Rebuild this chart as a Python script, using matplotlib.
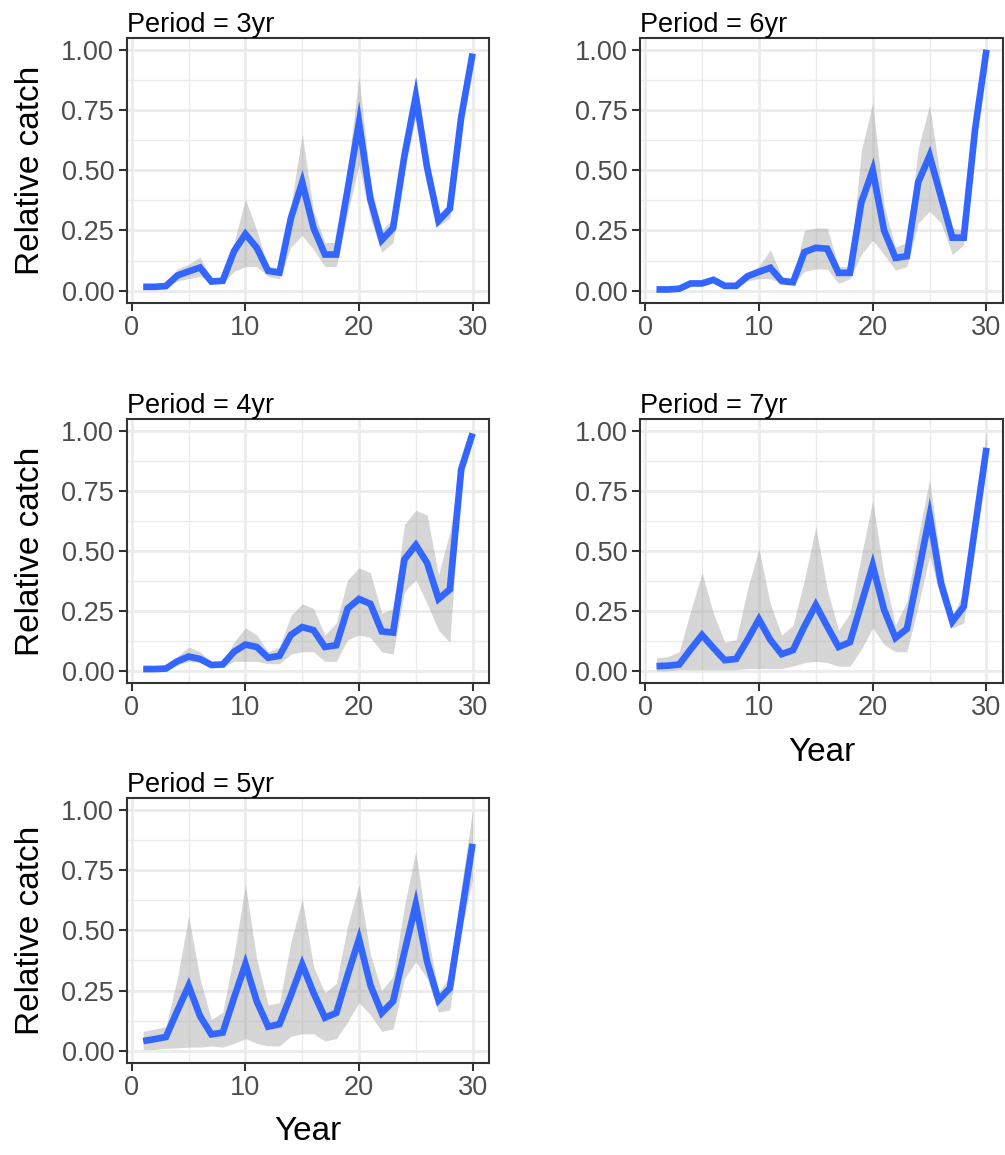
import numpy as np
import matplotlib
matplotlib.use("Agg")
import matplotlib.pyplot as plt

plt.rcParams['font.family'] = ['Liberation Sans', 'DejaVu Sans']

years = np.arange(1, 31)

# mean relative catch and ribbon bounds for each cycle period
catch_3 = [0.016, 0.016, 0.019, 0.063, 0.08, 0.096, 0.038, 0.041, 0.164, 0.235,
           0.178, 0.082, 0.075, 0.30, 0.45, 0.26, 0.15, 0.15, 0.42, 0.697,
           0.38, 0.21, 0.26, 0.56, 0.806, 0.51, 0.29, 0.34, 0.72, 0.984]
upper_3 = [0.02, 0.02, 0.025, 0.09, 0.11, 0.14, 0.05, 0.055, 0.20, 0.38,
           0.25, 0.10, 0.095, 0.35, 0.65, 0.33, 0.20, 0.20, 0.50, 0.89,
           0.45, 0.25, 0.30, 0.62, 0.89, 0.55, 0.31, 0.36, 0.75, 1.0]
lower_3 = [0.01, 0.01, 0.012, 0.04, 0.05, 0.06, 0.03, 0.03, 0.08, 0.10,
           0.10, 0.06, 0.05, 0.18, 0.23, 0.17, 0.10, 0.10, 0.32, 0.52,
           0.30, 0.16, 0.20, 0.50, 0.72, 0.47, 0.27, 0.30, 0.68, 0.95]

catch_6 = [0.005, 0.005, 0.008, 0.03, 0.03, 0.045, 0.02, 0.02, 0.06, 0.078,
           0.095, 0.04, 0.035, 0.16, 0.178, 0.174, 0.074, 0.074, 0.366, 0.50,
           0.25, 0.136, 0.143, 0.45, 0.56, 0.39, 0.22, 0.22, 0.67, 1.0]
upper_6 = [0.008, 0.008, 0.012, 0.035, 0.035, 0.055, 0.025, 0.025, 0.075, 0.10,
           0.17, 0.06, 0.05, 0.25, 0.26, 0.26, 0.10, 0.10, 0.58, 0.78,
           0.35, 0.18, 0.20, 0.59, 0.77, 0.45, 0.26, 0.25, 0.70, 1.0]
lower_6 = [0.003, 0.003, 0.005, 0.02, 0.02, 0.035, 0.012, 0.012, 0.04, 0.05,
           0.05, 0.03, 0.025, 0.08, 0.09, 0.09, 0.03, 0.05, 0.15, 0.21,
           0.15, 0.085, 0.10, 0.28, 0.33, 0.28, 0.15, 0.19, 0.65, 1.0]

catch_4 = [0.008, 0.008, 0.01, 0.04, 0.06, 0.05, 0.025, 0.027, 0.08, 0.11,
           0.10, 0.055, 0.063, 0.15, 0.183, 0.17, 0.10, 0.107, 0.26, 0.30,
           0.28, 0.165, 0.16, 0.465, 0.525, 0.45, 0.30, 0.34, 0.84, 0.99]
upper_4 = [0.01, 0.01, 0.015, 0.06, 0.10, 0.08, 0.04, 0.04, 0.12, 0.18,
           0.15, 0.08, 0.10, 0.23, 0.28, 0.26, 0.15, 0.20, 0.38, 0.43,
           0.41, 0.24, 0.26, 0.61, 0.67, 0.65, 0.40, 0.58, 0.88, 1.0]
lower_4 = [0.005, 0.005, 0.007, 0.025, 0.04, 0.035, 0.015, 0.015, 0.04, 0.04,
           0.04, 0.03, 0.03, 0.07, 0.08, 0.08, 0.04, 0.04, 0.13, 0.15,
           0.14, 0.08, 0.07, 0.33, 0.38, 0.28, 0.17, 0.12, 0.80, 0.98]

catch_7 = [0.02, 0.022, 0.027, 0.09, 0.15, 0.096, 0.045, 0.05, 0.13, 0.215,
           0.13, 0.07, 0.087, 0.186, 0.275, 0.186, 0.10, 0.12, 0.28, 0.44,
           0.255, 0.138, 0.175, 0.405, 0.646, 0.365, 0.206, 0.268, 0.60, 0.93]
upper_7 = [0.055, 0.06, 0.08, 0.25, 0.41, 0.24, 0.12, 0.13, 0.34, 0.51,
           0.28, 0.15, 0.19, 0.38, 0.60, 0.34, 0.17, 0.24, 0.48, 0.71,
           0.40, 0.19, 0.29, 0.56, 0.80, 0.44, 0.23, 0.33, 0.65, 1.0]
lower_7 = [0.0, 0.0, 0.005, 0.005, 0.005, 0.005, 0.005, 0.005, 0.01, 0.01,
           0.01, 0.01, 0.02, 0.035, 0.04, 0.035, 0.02, 0.02, 0.09, 0.18,
           0.11, 0.08, 0.08, 0.27, 0.48, 0.30, 0.18, 0.20, 0.55, 0.85]

catch_5 = [0.04, 0.048, 0.057, 0.165, 0.27, 0.144, 0.068, 0.075, 0.22, 0.36,
           0.205, 0.10, 0.11, 0.23, 0.358, 0.24, 0.137, 0.157, 0.314, 0.464,
           0.273, 0.157, 0.205, 0.41, 0.608, 0.37, 0.21, 0.26, 0.56, 0.86]
upper_5 = [0.08, 0.09, 0.10, 0.30, 0.56, 0.30, 0.13, 0.16, 0.40, 0.69,
           0.38, 0.19, 0.20, 0.45, 0.63, 0.35, 0.24, 0.28, 0.52, 0.69,
           0.40, 0.25, 0.31, 0.60, 0.83, 0.50, 0.24, 0.31, 0.68, 1.0]
lower_5 = [0.005, 0.005, 0.01, 0.012, 0.015, 0.015, 0.02, 0.015, 0.03, 0.05,
           0.03, 0.02, 0.02, 0.06, 0.07, 0.07, 0.04, 0.05, 0.12, 0.20,
           0.15, 0.08, 0.09, 0.30, 0.37, 0.30, 0.16, 0.17, 0.50, 0.71]

x_ticks = [0, 10, 20, 30]
y_ticks = [0.0, 0.25, 0.5, 0.75, 1.0]
y_labels = ['0.00', '0.25', '0.50', '0.75', '1.00']

# (title, mean, upper, lower, axes rect, y label?, x label?)
panels = [
    ('Period = 3yr', catch_3, upper_3, lower_3, [0.1261, 0.7379, 0.3605, 0.2295], True, False),
    ('Period = 6yr', catch_6, upper_6, lower_6, [0.6368, 0.7379, 0.3612, 0.2295], False, False),
    ('Period = 4yr', catch_4, upper_4, lower_4, [0.1261, 0.4087, 0.3605, 0.2285], True, False),
    ('Period = 7yr', catch_7, upper_7, lower_7, [0.6368, 0.4087, 0.3612, 0.2285], False, True),
    ('Period = 5yr', catch_5, upper_5, lower_5, [0.1261, 0.0799, 0.3605, 0.2291], True, True),
]

fig = plt.figure(figsize=(10.05, 11.55), dpi=100)

for title, mean, up, lo, rect, ylab, xlab in panels:
    ax = fig.add_axes(rect)
    ax.set_facecolor('white')
    ax.fill_between(years, lo, up, color='#999999', alpha=0.4, lw=0, zorder=2)
    ax.plot(years, mean, color='#3366FF', lw=4.8, solid_joinstyle='miter',
            solid_capstyle='butt', zorder=3)

    ax.set_xlim(-0.45, 31.45)
    ax.set_ylim(-0.05, 1.05)
    ax.set_xticks(x_ticks)
    ax.set_xticks([5, 15, 25], minor=True)
    ax.set_yticks(y_ticks)
    ax.set_yticklabels(y_labels)
    ax.set_yticks([0.125, 0.375, 0.625, 0.875], minor=True)
    ax.grid(which='major', color='#EBEBEB', lw=2.0, zorder=0)
    ax.grid(which='minor', color='#EBEBEB', lw=1.0, zorder=0)
    ax.set_axisbelow(True)
    ax.tick_params(which='major', length=6, width=1.5, color='#333333',
                   labelcolor='#4D4D4D', labelsize=19.5, pad=3)
    ax.tick_params(which='minor', length=0)
    for sp in ax.spines.values():
        sp.set_color('#333333')
        sp.set_linewidth(1.5)

    ax.set_title(title, loc='left', fontsize=19.5, pad=3, color='black')
    if ylab:
        ax.set_ylabel('Relative catch', fontsize=24, labelpad=11)
    if xlab:
        ax.set_xlabel('Year', fontsize=24, labelpad=11)

fig.savefig('out.png', dpi=100, facecolor='white')
